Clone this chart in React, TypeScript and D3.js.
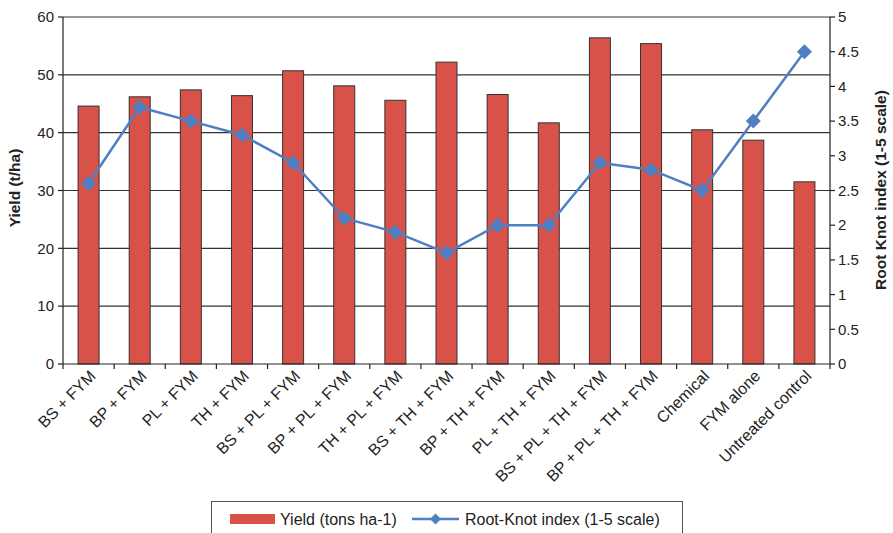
import React from "react";
import * as d3 from "d3";

const categories = [
  "BS + FYM",
  "BP + FYM",
  "PL + FYM",
  "TH + FYM",
  "BS + PL + FYM",
  "BP + PL + FYM",
  "TH + PL + FYM",
  "BS + TH + FYM",
  "BP + TH + FYM",
  "PL + TH + FYM",
  "BS + PL + TH + FYM",
  "BP + PL + TH + FYM",
  "Chemical",
  "FYM alone",
  "Untreated control",
];
const yieldValues = [44.6, 46.2, 47.4, 46.4, 50.7, 48.1, 45.6, 52.2, 46.6, 41.7, 56.4, 55.4, 40.5, 38.7, 31.5];
const rootKnotValues = [2.6, 3.7, 3.5, 3.3, 2.9, 2.1, 1.9, 1.6, 2.0, 2.0, 2.9, 2.8, 2.5, 3.5, 4.5];
const leftTicks = [0, 10, 20, 30, 40, 50, 60];
const rightTicks = [0, 0.5, 1, 1.5, 2, 2.5, 3, 3.5, 4, 4.5, 5];

const W = 893;
const H = 533;
const plot = { left: 63, right: 830, top: 17, bottom: 364 };
const FONT = "'Liberation Sans', Arial, Helvetica, sans-serif";
const BAR = "#d9524a";
const LINE = "#4f7fc0";
const AXIS = "#222";

export default function App() {
  const x = d3.scaleBand<string>().domain(categories).range([plot.left, plot.right]).paddingInner(0).paddingOuter(0);
  const yL = d3.scaleLinear().domain([0, 60]).range([plot.bottom, plot.top]);
  const yR = d3.scaleLinear().domain([0, 5]).range([plot.bottom, plot.top]);
  const barW = 21;
  const cx = (c: string) => (x(c) as number) + x.bandwidth() / 2;

  const linePath = d3
    .line<number>()
    .x((_, i) => cx(categories[i]))
    .y((d) => yR(d))(rootKnotValues) as string;

  const diamond = (px: number, py: number, r: number) =>
    `M${px},${py - r}L${px + r},${py}L${px},${py + r}L${px - r},${py}Z`;

  const boundaries = d3.range(categories.length + 1).map((i) => plot.left + i * x.bandwidth());

  return (
    <svg
      width={W}
      height={H}
      style={{ position: "absolute", left: 0, top: 0, background: "#fff" }}
      fontFamily={FONT}
    >
      <rect x={0} y={0} width={W} height={H} fill="#fff" />
      {/* horizontal gridlines */}
      {leftTicks.slice(1).map((t) => (
        <line key={t} x1={plot.left} x2={plot.right} y1={yL(t)} y2={yL(t)} stroke="#333" strokeWidth={1.2} />
      ))}
      {/* bars */}
      {categories.map((c, i) => (
        <rect
          key={c}
          x={cx(c) - barW / 2}
          y={yL(yieldValues[i])}
          width={barW}
          height={plot.bottom - yL(yieldValues[i])}
          fill={BAR}
          stroke="#333"
          strokeWidth={1}
        />
      ))}
      {/* left axis */}
      <line x1={plot.left} x2={plot.left} y1={plot.top} y2={plot.bottom} stroke={AXIS} strokeWidth={1.2} />
      {leftTicks.map((t) => (
        <g key={t}>
          <line x1={plot.left - 5} x2={plot.left} y1={yL(t)} y2={yL(t)} stroke={AXIS} strokeWidth={1.2} />
          <text x={plot.left - 9} y={yL(t)} dy="0.35em" textAnchor="end" fontSize={15} fill="#222">
            {t}
          </text>
        </g>
      ))}
      {/* right axis */}
      <line x1={plot.right} x2={plot.right} y1={plot.top} y2={plot.bottom} stroke={AXIS} strokeWidth={1.2} />
      {rightTicks.map((t) => (
        <g key={t}>
          <line x1={plot.right} x2={plot.right + 5} y1={yR(t)} y2={yR(t)} stroke={AXIS} strokeWidth={1.2} />
          <text x={plot.right + 8} y={yR(t)} dy="0.35em" textAnchor="start" fontSize={15} fill="#222">
            {t}
          </text>
        </g>
      ))}
      {/* bottom axis */}
      <line x1={plot.left} x2={plot.right} y1={plot.bottom} y2={plot.bottom} stroke={AXIS} strokeWidth={1.2} />
      {boundaries.map((bx, i) => (
        <line key={i} x1={bx} x2={bx} y1={plot.bottom} y2={plot.bottom + 5} stroke={AXIS} strokeWidth={1.2} />
      ))}
      {categories.map((c) => (
        <text
          key={c}
          transform={`translate(${cx(c) + 8},${plot.bottom + 13}) rotate(-45)`}
          textAnchor="end"
          fontSize={16}
          fill="#222"
        >
          {c}
        </text>
      ))}
      {/* root-knot line */}
      <path d={linePath} fill="none" stroke={LINE} strokeWidth={2.5} />
      {rootKnotValues.map((v, i) => (
        <path key={i} d={diamond(cx(categories[i]), yR(v), 7.5)} fill={LINE} />
      ))}
      {/* axis titles */}
      <text
        transform={`translate(20,188) rotate(-90)`}
        textAnchor="middle"
        fontSize={15.5}
        fontWeight="bold"
        fill="#222"
      >
        Yield (t/ha)
      </text>
      <text
        transform={`translate(886,190) rotate(-90)`}
        textAnchor="middle"
        fontSize={15.5}
        fontWeight="bold"
        fill="#222"
      >
        Root Knot index (1-5 scale)
      </text>
      {/* legend */}
      <rect x={211.5} y={501.5} width={471} height={60} fill="#fff" stroke="#555" strokeWidth={1} />
      <rect x={230} y={514} width={45} height={10} fill={BAR} />
      <text x={280} y={524.5} fontSize={16} fill="#222">
        Yield (tons ha-1)
      </text>
      <line x1={412} x2={459} y1={519} y2={519} stroke={LINE} strokeWidth={2.5} />
      <path d={diamond(435.5, 519, 5.5)} fill={LINE} />
      <text x={465} y={524.5} fontSize={16} fill="#222">
        Root-Knot index (1-5 scale)
      </text>
    </svg>
  );
}
